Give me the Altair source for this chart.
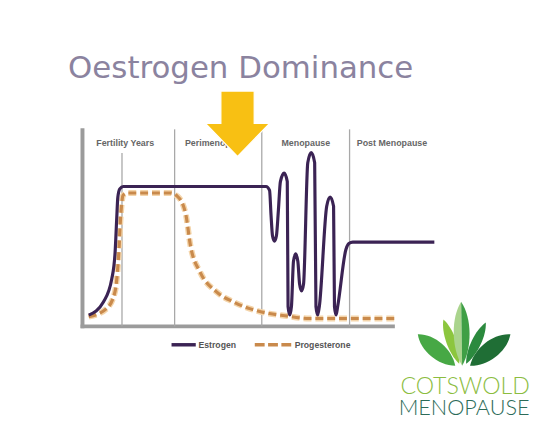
import altair as alt
import pandas as pd
import numpy as np

# ---------------- data (time along axis 0-100, hormone level 0-100) ----------------
est_t = [2.0, 6.75, 9.37, 10.44, 10.94, 11.32, 11.95, 13.06, 58.78, 59.89, 60.36, 60.83,
         61.46, 62.09, 62.72, 63.36, 64.55, 65.56, 65.81, 66.35, 66.89, 67.55, 68.24, 68.94,
         69.5, 70.13, 70.77, 72.12, 73.23, 74.33, 74.74, 75.28, 75.81, 78.18, 79.28, 80.38,
         80.67, 81.17, 81.68, 84.33, 85.27, 86.53, 112.64]
est_v = [5.7, 12.5, 24.0, 37.5, 54.0, 65.5, 69.75, 71.0, 71.0, 69.0, 56.5, 46.0,
         43.25, 46.0, 59.0, 73.5, 77.75, 73.5, 10.0, 5.75, 10.0, 33.0, 36.75, 33.0,
         21.5, 18.0, 21.5, 83.0, 88.15, 83.0, 10.0, 5.75, 10.0, 61.0, 65.65, 61.0,
         10.0, 5.75, 10.0, 39.0, 42.0, 42.75, 42.75]

pro_t = [2.0, 7.7, 10.4, 11.5, 12.3, 13.0, 14.3, 28.0, 30.4, 33.0, 34.6, 37.7, 43.0, 48.3,
         53.5, 59.8, 64.8, 72.5, 100.0]
pro_v = [4.9, 9.0, 17.5, 34.0, 57.5, 66.5, 67.7, 67.7, 66.0, 57.4, 40.7, 27.4, 17.4, 12.4,
         9.0, 6.5, 5.4, 4.0, 4.0]

phases = ["Fertility Years", "Perimenopause", "Menopause", "Post Menopause"]
divider_t = [12.65, 29.5, 57.4, 85.5]
divider_top = [88, 100, 100, 100]
label_t = [4.4, 32.8, 63.7, 87.8]

title_text = "Oestrogen Dominance"
series_names = ["Estrogen", "Progesterone"]
logo_words = ["COTSWOLD", "MENOPAUSE"]

EST_COL = "#3b2354"
PRO_COL = "#c98a4c"
PRO_HALO = "#f4d5ab"
GRID_COL = "#a8a8a8"
AXIS_COL = "#9b9b9b"
LABEL_FONT = "Liberation Sans, Arial, sans-serif"

est_df = pd.DataFrame({"t": est_t, "v": est_v})
pro_df = pd.DataFrame({"t": pro_t, "v": pro_v})
div_df = pd.DataFrame({"t": divider_t, "top": divider_top, "bottom": [0] * 4})
lab_df = pd.DataFrame({"t": label_t, "phase": phases, "v": [93] * 4})
yax_df = pd.DataFrame({"t": [0], "v": [-1], "v2": [100.5]})
xax_df = pd.DataFrame({"t": [-0.6], "t2": [100], "v": [0]})

xs = alt.Scale(domain=[0, 100], range=[75.6, 392.7])
ys = alt.Scale(domain=[0, 100], range=[320, 120])

X = lambda f: alt.X(f, type="quantitative", scale=xs, axis=None)
Y = lambda f: alt.Y(f, type="quantitative", scale=ys, axis=None)

base = alt.Chart(pd.DataFrame({"a": [0]}))

# axes
y_axis = alt.Chart(yax_df).mark_rule(color=AXIS_COL, strokeWidth=4).encode(
    x=X("t"), y=Y("v"), y2="v2:Q")
x_axis = alt.Chart(xax_df).mark_rule(color=AXIS_COL, strokeWidth=4).encode(
    x=X("t"), x2="t2:Q", y=Y("v"))

dividers = alt.Chart(div_df).mark_rule(color=GRID_COL, strokeWidth=1.3).encode(
    x=X("t"), y=Y("bottom"), y2="top:Q")

labels = alt.Chart(lab_df).transform_filter(
    alt.datum.phase != phases[1]
).mark_text(
    align="left", baseline="middle", font=LABEL_FONT, fontSize=9, fontWeight="bold",
    color="#666666").encode(x=X("t"), y=Y("v"), text="phase:N")
label_peri = alt.Chart(lab_df).transform_filter(
    alt.datum.phase == phases[1]
).mark_text(
    align="left", baseline="middle", font=LABEL_FONT, fontSize=9, fontWeight="bold",
    color="#666666", limit=56).encode(x=X("t"), y=Y("v"), text="phase:N")

pro_halo = alt.Chart(pro_df).mark_line(
    interpolate="monotone", color=PRO_HALO, strokeWidth=6, strokeDash=[8, 4]).encode(
    x=X("t"), y=Y("v"))
pro_line = alt.Chart(pro_df).mark_line(
    interpolate="monotone", color=PRO_COL, strokeWidth=3.2, strokeDash=[8, 4]).encode(
    x=X("t"), y=Y("v"))
est_line = alt.Chart(est_df).mark_line(
    interpolate="monotone", color=EST_COL, strokeWidth=3.2).encode(
    x=X("t"), y=Y("v"))

# arrow
arrow_path = "M-0.52,-1.04 L0.52,-1.04 L0.52,-0.03 L1,-0.03 L0,1.0 L-1,-0.03 L-0.52,-0.03 Z"
arrow = base.mark_point(shape=arrow_path, size=4225, filled=True, fill="#f8c013",
                        opacity=1, stroke="white", strokeWidth=1.2).encode(
    x=alt.value(233), y=alt.value(115))

title = base.mark_text(align="left", baseline="alphabetic", font="DejaVu Sans",
                       fontSize=31.3, color="#8b839f", text=title_text).encode(
    x=alt.value(61), y=alt.value(68))

# legend (manual)
leg_est = base.mark_rule(color=EST_COL, strokeWidth=3.5).encode(
    x=alt.value(166), x2=alt.value(190.6), y=alt.value(338.7))
leg_pro = base.mark_rule(color=PRO_COL, strokeWidth=3.5, strokeDash=[10, 3.5]).encode(
    x=alt.value(250.5), x2=alt.value(288), y=alt.value(338.7))
leg_t1 = base.mark_text(align="left", baseline="middle", font=LABEL_FONT, fontSize=8.8,
                        fontWeight="bold", color="#555555", text=series_names[0]).encode(
    x=alt.value(193.4), y=alt.value(338.7))
leg_t2 = base.mark_text(align="left", baseline="middle", font=LABEL_FONT, fontSize=8.8,
                        fontWeight="bold", color="#555555", text=series_names[1]).encode(
    x=alt.value(291), y=alt.value(338.7))

# logo leaves
def leaf(w):
    return f"M0,-1 C{w},-0.5 {w},0.45 0,1 C{-w},0.45 {-w},-0.5 0,-1 Z"

def half_leaf(w, side):
    return f"M0,-1 C{side*w},-0.5 {side*w},0.45 0,1 Z"

leaves = [
    ((462, 368), (424, 336), leaf(0.45), "#47a845"),
    ((477, 368), (518, 336), leaf(0.45), "#1f6e35"),
    ((466, 366), (450, 321), leaf(0.28), "#8cc63e"),
    ((473, 366), (493, 324), leaf(0.28), "#2b8a3e"),
    ((469, 368), (468, 303), half_leaf(0.33, -1), "#aad48d"),
    ((469, 368), (468, 303), half_leaf(0.33, 1), "#3f9f45"),
]
leaf_layers = []
for (bx, by), (tx, ty), path, col in leaves:
    dx, dy = tx - bx, ty - by
    L = float(np.hypot(dx, dy))
    ang = float(np.degrees(np.arctan2(dx, -dy))) % 360
    cx, cy = (bx + tx) / 2 - 8, (by + ty) / 2 - 8
    leaf_layers.append(base.mark_point(shape=path, size=L * L, angle=ang, filled=True,
                                       fill=col, opacity=1, strokeWidth=0).encode(
        x=alt.value(cx), y=alt.value(cy)))

logo1 = base.mark_text(align="center", baseline="alphabetic", font="Lato", fontWeight=300,
                       fontSize=23.5, color="#8cbd3f", text=logo_words[0]).encode(
    x=alt.value(464), y=alt.value(389))
logo2 = base.mark_text(align="center", baseline="alphabetic", font="Lato", fontWeight=300,
                       fontSize=22, color="#2c6b58", text=logo_words[1]).encode(
    x=alt.value(463), y=alt.value(410))

chart = alt.layer(
    y_axis, x_axis, dividers, labels, label_peri, pro_halo, pro_line, est_line, arrow, title,
    leg_est, leg_pro, leg_t1, leg_t2, *leaf_layers, logo1, logo2
).properties(
    width=538, height=419, padding=0, autosize=alt.AutoSizeParams(type="none"),
    background="white"
).configure_view(stroke=None)

chart.save("out.html", embed_options={"renderer": "svg", "actions": False})
